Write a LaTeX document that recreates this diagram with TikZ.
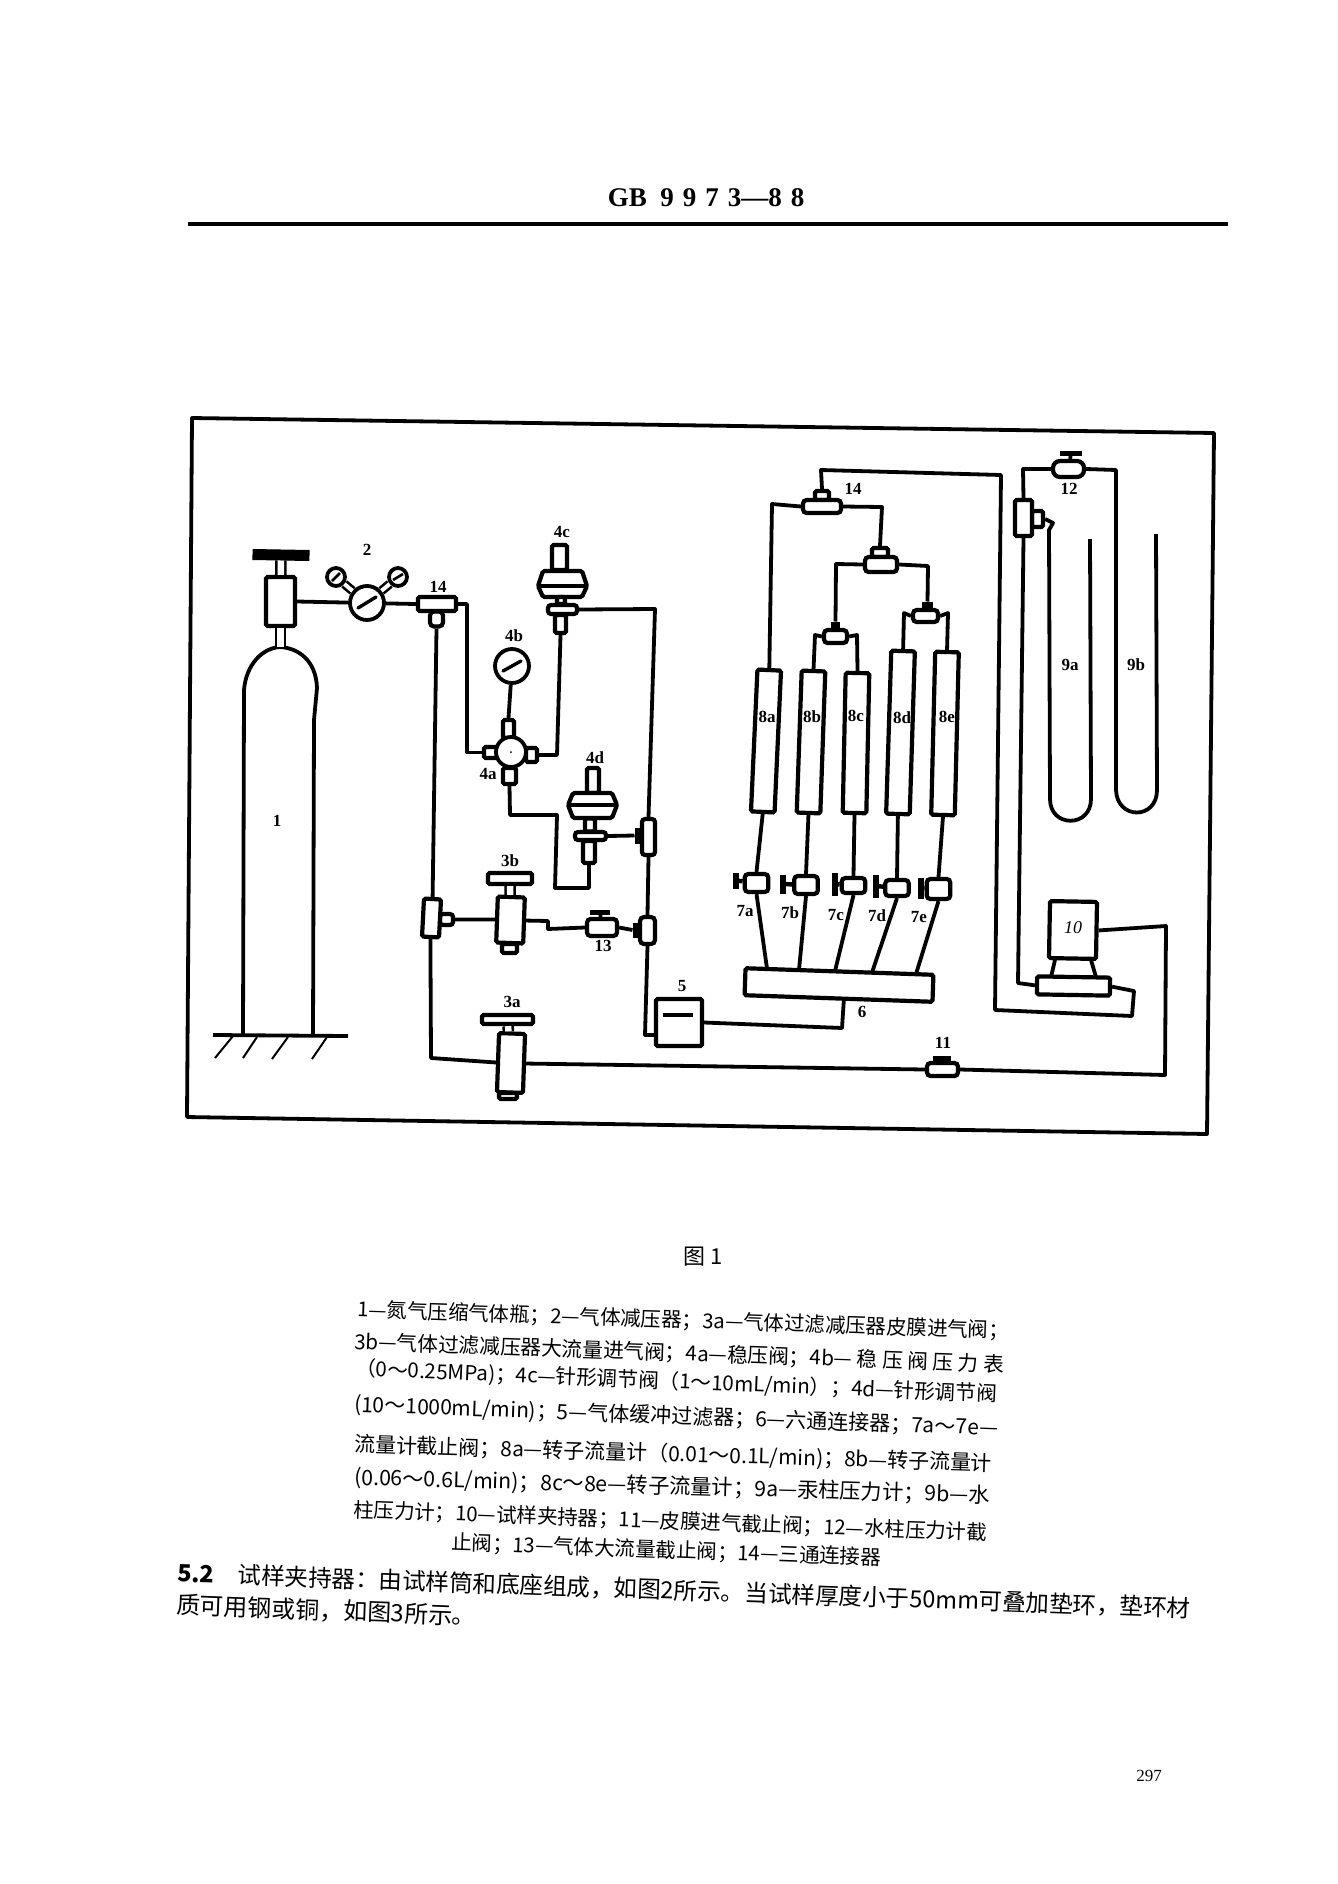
\documentclass[tikz,border=0pt]{standalone}
\usepackage{fontspec}
\newfontfamily\cjk{Noto Sans CJK SC}
\newfontfamily\labfont{Liberation Serif}
\usetikzlibrary{positioning}
\tikzset{
  pipe/.style={line width=1.9pt, line join=round},
  stem/.style={line width=1.3pt, double=white, double distance=3.2pt},
  part/.style={draw, rectangle, line width=2.1pt, fill=white, inner sep=0pt, rounded corners=0.8pt},
  valve/.style={part, rounded corners=1.8pt},
  knob/.style={draw, rectangle, fill=black, inner sep=0pt, line width=0.5pt, minimum width=#1, minimum height=2pt},
  gauge/.style={draw, circle, line width=1.9pt, fill=white, inner sep=0pt, minimum size=#1},
  needle/.style={line width=1.7pt, line cap=round},
  lab/.style={inner sep=0pt, font=\labfont\bfseries\fontsize{8.5}{9}\selectfont},
  capline/.style={inner sep=0pt, anchor=west, font=\cjk}
}
\newcommand{\fitline}[2]{\resizebox{#1}{!}{#2}}
\begin{document}
\begin{tikzpicture}[x=0.5pt, y=-0.5pt]
\useasboundingbox (0,0) rectangle (1338,1884);

% Kopfzeile
\node[inner sep=0pt, font=\labfont\bfseries\fontsize{13.5}{14}\selectfont] (head) at (706,198) {GB\ \ 9\,\,9\,\,7\,\,3—8\,\,8};
\draw[line width=1.9pt] (188,224) -- (1228,224);

% Rahmen
\draw[pipe] (192,418) -- (1214,433) -- (1207,1134) -- (187,1117) -- cycle;

% Flasche
\draw[pipe] (243,1035) -- (244,690) .. controls (246,665) and (262,648) .. (280,647)
  .. controls (298,648) and (316,660) .. (317,688) -- (314,720) -- (313,1035);
\draw[pipe] (213,1035) -- (348,1036);
\draw[line width=1pt] (215,1058) -- (233,1036);
\draw[line width=1pt] (243,1058) -- (257,1037);
\draw[line width=1pt] (272,1059) -- (288,1037);
\draw[line width=1pt] (312,1059) -- (327,1037);
\coordinate (top1) at (280.5,647);
\node[part, minimum width=14.5pt, minimum height=24.5pt] (body1) at (280.5,601.5) {};
\node[knob=28pt, minimum height=5pt, rotate=-1] (wheel1) at (281,555) {};
\draw[stem] (wheel1) -- (body1);
\draw[stem] (body1) -- (top1);
\node[lab] (n1) at (277,821) {1};

% Druckminderer
\node[gauge=17pt] (reg2) at (367,603) {};
\node[gauge=9pt] (gl) at (336,577) {};
\node[gauge=9pt] (gr) at (398,577) {};
\draw[stem, double distance=2pt] (reg2) -- (gl);
\draw[stem, double distance=2pt] (reg2) -- (gr);
\draw[needle] (358,608) -- (376,597);
\draw[line width=1.3pt] (332,581) -- (340,573);
\draw[line width=1.3pt] (393,580) -- (403,574);
\node[lab] (n2) at (367,550) {2};
\draw[pipe] (body1.east) -- (reg2);

% T-Stueck links
\node[part, minimum width=6.5pt, minimum height=7.5pt, rounded corners=2pt] (t1s) at (436.5,619) {};
\node[part, minimum width=19pt, minimum height=7pt] (t1) at (437,604) {};
\node[lab] (n14a) at (438,587) {14};
\draw[pipe] (reg2) -- (t1.west);
\node[part, minimum width=6.5pt, minimum height=5.5pt, rounded corners=1.5pt] (t2s) at (446.5,919.5) {};
\node[part, minimum width=8.5pt, minimum height=19pt, rotate=-3] (t2) at (431.5,918) {};
\draw[pipe] (t1s.south) -- (t2.north);

% 4a bis 4c
\node[part, minimum width=5.5pt, minimum height=9pt] (pt) at (508.5,729) {};
\node[part, minimum width=6.5pt, minimum height=5.5pt] (pl) at (490.5,752.5) {};
\node[part, minimum width=5.5pt, minimum height=7pt] (pr) at (531.5,755) {};
\node[part, minimum width=6.5pt, minimum height=8pt] (pb) at (509.5,776) {};
\node[gauge=15pt] (a4) at (511,752) {};
\fill (511,752) circle (1);
\node[gauge=17pt] (g4b) at (512,666) {};
\draw[needle] (503,671) -- (521,661);
\draw[pipe] (pt.north) -- (g4b);
\node[lab] (n4a) at (488,774) {4a};
\node[lab] (n4b) at (514,636) {4b};
\coordinate (k1) at (467,604);
\draw[pipe] (t1.east) -- (k1) |- (pl.west);

\node[part, minimum width=7.5pt, minimum height=12.5pt] (up4c) at (559.5,557.5) {};
\draw[part] (543,571) -- (582,571) -- (587,586) -- (582,597) -- (543,597) -- (538,586) -- cycle;
\draw[pipe] (540,586) -- (585,586);
\node[part, minimum width=4pt, minimum height=3.5pt] (st4c) at (561,600.5) {};
\node[part, minimum width=5.5pt, minimum height=9pt] (lo4c) at (560.5,624) {};
\node[part, minimum width=14.5pt, minimum height=4.5pt, rounded corners=1.5pt] (c4c) at (562.5,609.5) {};
\node[lab] (n4c) at (562,532) {4c};
\coordinate (k2) at (557,755);
\draw[pipe] (lo4c.south) -- (k2) -- (pr.east);

% T-Stuecke rechts, Leitung nach 5
\node[knob=3.5pt, minimum height=7.5pt] (t3s) at (638.5,835.5) {};
\node[part, minimum width=6.5pt, minimum height=18pt, rounded corners=1.5pt] (t3) at (648.5,837) {};
\node[knob=3.5pt, minimum height=7pt] (t4s) at (636.5,930) {};
\node[part, minimum width=7.5pt, minimum height=13.5pt, rounded corners=2pt] (t4) at (647.5,930.5) {};
\coordinate (k3) at (655,609);
\draw[pipe] (c4c.east) -- (k3) -- (t3.north);
\draw[pipe] (t3.south) -- (t4.north);

% 4d
\node[part, minimum width=6pt, minimum height=12.5pt] (up4d) at (593,780.5) {};
\draw[part] (573,793) -- (612,793) -- (617,805) -- (612,818) -- (573,818) -- (568,805) -- cycle;
\draw[pipe] (570,805) -- (615,805);
\node[part, minimum width=5pt, minimum height=6.5pt] (st4d) at (590,825) {};
\node[part, minimum width=6pt, minimum height=11pt] (lo4d) at (589,852) {};
\node[part, minimum width=15.5pt, minimum height=4pt, rounded corners=1.5pt] (c4d) at (590.5,836) {};
\node[lab] (n4d) at (595,758) {4d};
\coordinate (k4) at (510,815);
\coordinate (k5) at (557,815);
\coordinate (k6) at (555,888);
\coordinate (k7) at (589,888);
\draw[pipe] (pb.south) -- (k4) -- (k5) -- (k6) -- (k7) -- (lo4d.south);
\draw[pipe] (c4d.east) -- (t3s.west);

% 3b und 13
\node[part, minimum width=22pt, minimum height=5.5pt] (wheel3b) at (510,878.5) {};
\node[part, minimum width=13.5pt, minimum height=23pt, rotate=-2] (body3b) at (510.5,920) {};
\node[part, minimum width=7.5pt, minimum height=4.5pt] (cap3b) at (509.5,948.5) {};
\draw[stem] (wheel3b) -- (body3b);
\node[lab] (n3b) at (510,861) {3b};
\draw[pipe] (t2s.east) -- (body3b.west);
\node[valve, minimum width=15pt, minimum height=8.5pt] (v13) at (602,927.5) {};
\node[knob=9.5pt] (h13) at (600,912) {};
\draw[pipe] (h13) -- (v13);
\node[lab] (n13) at (603,946) {13};
\coordinate (k8) at (548,921);
\coordinate (k9) at (548,929);
\draw[pipe] (body3b.east) -- (k8) -- (k9) -- (v13.west);
\draw[pipe] (v13.east) -- (t4s.west);

% 3a
\node[part, minimum width=25.5pt, minimum height=4.5pt] (wheel3a) at (507.5,1019.5) {};
\node[part, minimum width=13pt, minimum height=29.5pt, rotate=-2] (body3a) at (511,1063) {};
\node[part, minimum width=9pt, minimum height=3pt] (cap3a) at (508,1096) {};
\draw[stem] (wheel3a) -- (body3a);
\node[lab] (n3a) at (512,1002) {3a};
\coordinate (k10) at (431,1058);
\draw[pipe] (t2.south) -- (k10) -- (body3a.west);

% 5 und 6
\node[part, minimum width=23pt, minimum height=23.5pt] (box5) at (679,1022.5) {};
\draw[pipe] (663,1015) -- (693,1015);
\node[lab] (n5) at (682,986) {5};
\coordinate (k11) at (645,1035);
\draw[pipe] (t4.south) -- (k11) -- (box5.west |- k11);
\node[part, minimum width=94pt, minimum height=13.5pt, rotate=-2] (block6) at (839,985) {};
\node[lab] (n6) at (862,1012) {6};
\coordinate (k12) at (842,1028);
\coordinate (k13) at (844,998);
\draw[pipe] (box5.east) -- (k12) -- (k13);

% 7a-7e, 8a-8e
\foreach \n/\x/\y/\r/\h in {a/766/741/2.6/71, b/811/742/2/71, c/856/743/1.2/70, d/900.5/732.5/1.8/81.5, e/945/733.5/1.4/81.5}
  \node[part, minimum width=11.8pt, minimum height=\h pt, rotate=-\r] (tube\n) at (\x,\y) {};
\foreach \n/\x/\y/\b in {a/767/717/8a, b/812/717/8b, c/856/716/8c, d/902/718/8d, e/947/717/8e}
  \node[lab] (label\n) at (\x,\y) {\b};
\foreach \n/\x/\y/\h/\hx/\hy/\hh/\lx/\ly/\b/\jx/\jy in {
  a/756.5/883/9/736/880.5/7.5/745/911/7a/767/968.5,
  b/806/885/9/783/884/9/790/913/7b/799/970,
  c/853.5/885.5/7.5/835/884/11/836/915/7c/835/971,
  d/897/888/8/876/886/11/877/916/7d/872/972.5,
  e/938.5/889/10/921/888/10/919/917/7e/916/974}{
  \node[valve, minimum width=11.8pt, minimum height=\h pt] (v\n) at (\x,\y) {};
  \node[draw, rectangle, fill=black, inner sep=0pt, minimum width=2.2pt, minimum height=\hh pt] (h\n) at (\hx,\hy) {};
  \draw[pipe, line width=2.2pt] (h\n) -- (v\n);
  \node[lab] (l\n) at (\lx,\ly) {\b};
  \coordinate (j\n) at (\jx,\jy);
  \draw[pipe] (tube\n.south) -- (v\n.north);
  \draw[pipe] (v\n.south) -- (j\n);
}

% Verteiler
\node[part, minimum width=7pt, minimum height=4.5pt] (t5s) at (822,495.5) {};
\node[valve, minimum width=19pt, minimum height=6.5pt] (t5) at (822,506.5) {};
\node[lab] (n14b) at (853,489) {14};
\node[part, minimum width=8pt, minimum height=4.5pt] (t6s) at (880,552.5) {};
\node[valve, minimum width=16pt, minimum height=7.5pt] (t6) at (881,564.5) {};
\node[knob=4pt, minimum height=4pt] (t7s) at (835.5,626) {};
\node[valve, minimum width=11.5pt, minimum height=6.5pt] (t7) at (835.5,636.5) {};
\node[knob=5pt, minimum height=4pt] (t8s) at (927.5,606) {};
\node[valve, minimum width=12.5pt, minimum height=6pt] (t8) at (925.5,616) {};
\coordinate (k14) at (772,504);
\coordinate (k15) at (882,507);
\coordinate (k16) at (836,564);
\coordinate (k17) at (928,566);
\coordinate (k18) at (815,635);
\coordinate (k19) at (857,635);
\coordinate (k20) at (904,613);
\coordinate (k21) at (948,613);
\draw[pipe] (t5.west) -- (k14) -- (tubea.north);
\draw[pipe] (t5.east) -- (k15) -- (t6s.north);
\draw[pipe] (t6.west) -- (k16) -- (t7s.north);
\draw[pipe] (t6.east) -- (k17) -- (t8s.north);
\draw[pipe] (t7.west) -- (k18) -- (tubeb.north);
\draw[pipe] (t7.east) -- (k19) -- (tubec.north);
\draw[pipe] (t8.west) -- (k20) -- (tubed.north);
\draw[pipe] (t8.east) -- (k21) -- (tubee.north);

% 10
\node[part, minimum width=23.5pt, minimum height=28.5pt, rotate=-1] (cup10) at (1073,930) {};
\node[part, minimum width=36.5pt, minimum height=9pt, rotate=-1] (base10) at (1073.5,986) {};
\draw[pipe] (1055,960) -- (1051,977);
\draw[pipe] (1091,960) -- (1096,977);
\node[inner sep=0pt, font=\labfont\itshape\fontsize{9}{9}\selectfont] (n10) at (1073,928) {10};

% 11 und 12
\node[valve, minimum width=15.5pt, minimum height=6.5pt] (v11) at (942.5,1069.5) {};
\node[knob=8.5pt] (h11) at (942,1058) {};
\draw[pipe] (h11) -- (v11);
\node[lab] (n11) at (943,1043) {11};
\draw[pipe] (body3a.east) -- (v11.west);
\coordinate (k22) at (1166,926);
\coordinate (k23) at (1165,1075);
\draw[pipe] (cup10.east) -- (k22) -- (k23) -- (v11.east);
\coordinate (k24) at (821,470);
\coordinate (k25) at (1001,475);
\coordinate (k26) at (995,1010);
\coordinate (k27) at (1132,1016);
\coordinate (k28) at (1134,991);
\draw[pipe] (t5s.north) -- (k24) -- (k25) -- (k26) -- (k27) -- (k28) -- (base10.east);
\node[valve, minimum width=15.5pt, minimum height=8pt, rounded corners=3.5pt] (v12) at (1068.5,469) {};
\node[knob=10.5pt] (h12) at (1071,453) {};
\draw[pipe] (h12) -- (v12);
\node[lab] (n12) at (1069,489) {12};
\node[part, minimum width=5.5pt, minimum height=8pt] (t9s) at (1037.5,519) {};
\node[part, minimum width=8.5pt, minimum height=18pt] (t9) at (1023.5,518) {};
\coordinate (k29) at (1023,469);
\coordinate (k30) at (1018,983);
\draw[pipe] (v12.west) -- (k29) -- (t9.north);
\draw[pipe] (t9.south) -- (k30) -- (base10.west);

% U-Rohre
\coordinate (k31) at (1053,523);
\coordinate (k32) at (1116,470);
\draw[pipe] (t9s.east) -- (k31) -- (1049,530) -- (1050,799) .. controls (1050,828) and (1091,828) .. (1091,799) -- (1090,539);
\draw[pipe] (v12.east) -- (k32) -- (1116,790) .. controls (1117,820) and (1157,820) .. (1157,790) -- (1156,534);
\node[lab] (n9a) at (1070,665) {9a};
\node[lab] (n9b) at (1136,665) {9b};

% Bildunterschrift
\node[inner sep=0pt, font=\cjk\fontsize{11}{12}\selectfont] (fig) at (703,1257) {图 1};
\node[capline, rotate=-1.85] (cap1) at (357,1310) {\fitline{326pt}{1—氮气压缩气体瓶；2—气体减压器；3a—气体过滤减压器皮膜进气阀；}};
\node[capline, rotate=-2] (cap2) at (354,1342) {\fitline{325pt}{3b—气体过滤减压器大流量进气阀；4a—稳压阀；4b— 稳 压 阀 压 力 表}};
\node[capline, rotate=-2.3] (cap3) at (355,1369) {\fitline{321pt}{（0～0.25MPa)；4c—针形调节阀（1～10mL/min）；4d—针形调节阀}};
\node[capline, rotate=-2.1] (cap4) at (354,1405) {\fitline{322pt}{(10～1000mL/min)；5—气体缓冲过滤器；6—六通连接器；7a～7e—}};
\node[capline, rotate=-1.7] (cap5) at (354,1445) {\fitline{319pt}{流量计截止阀；8a—转子流量计（0.01～0.1L/min)；8b—转子流量计}};
\node[capline, rotate=-1.6] (cap6) at (354,1478) {\fitline{318pt}{(0.06～0.6L/min)；8c～8e—转子流量计；9a—汞柱压力计；9b—水}};
\node[capline, rotate=-2.1] (cap7) at (353,1510) {\fitline{317pt}{柱压力计；10—试样夹持器；11—皮膜进气截止阀；12—水柱压力计截}};
\node[capline, rotate=-2] (cap8) at (451,1543) {\fitline{215pt}{止阀；13—气体大流量截止阀；14—三通连接器}};
\node[capline, rotate=-2] (para1) at (177,1573) {\fitline{507pt}{\textbf{5.2}\quad 试样夹持器：由试样筒和底座组成，如图2所示。当试样厚度小于50mm可叠加垫环，垫环材}};
\node[capline, rotate=-2.1] (para2) at (176,1605) {\fitline{150pt}{质可用钢或铜，如图3所示。}};
\node[inner sep=0pt, font=\labfont\fontsize{8.5}{9}\selectfont] (page) at (1149,1776) {297};
\end{tikzpicture}
\end{document}
